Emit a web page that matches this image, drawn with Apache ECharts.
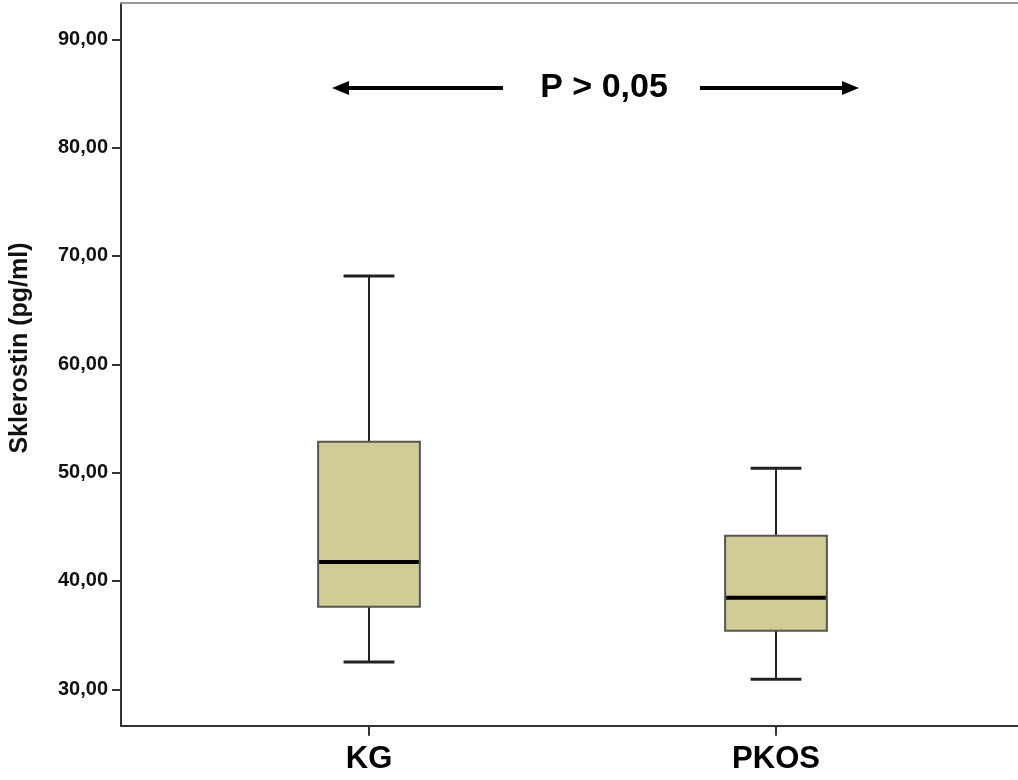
<!DOCTYPE html>
<html>
<head>
<meta charset="utf-8">
<script src="https://cdn.jsdelivr.net/npm/echarts@6/dist/echarts.min.js"></script>
<style>html,body{margin:0;padding:0;background:#fff;}#c{width:1018px;height:780px;}</style>
</head>
<body>
<div id="c"></div>
<script>
const categories = ['KG', 'PKOS'];
const whiskerLow = [32.52, 30.92];
const q1 = [37.63, 35.40];
const median = [41.75, 38.45];
const q3 = [52.85, 44.18];
const whiskerHigh = [68.15, 50.40];
const yTicks = [30, 40, 50, 60, 70, 80, 90];
const yTitle = 'Sklerostin (pg/ml)';
const pText = 'P > 0,05';

const FONT = 'Liberation Sans, Arial, sans-serif';
const boxData = categories.map((c, i) => [i + 1, whiskerLow[i], q1[i], median[i], q3[i], whiskerHigh[i]]);
const catPos = categories.map((c, i) => i + 1);

const chart = echarts.init(document.getElementById('c'), null, {renderer: 'canvas'});
const option = {
  animation: false,
  backgroundColor: '#fff',
  grid: {left: 121, right: 0, top: 3, bottom: 54.3, containLabel: false},
  xAxis: [{
    type: 'value', min: 0.3907, max: 2.5946, position: 'bottom',
    splitLine: {show: false},
    axisLine: {show: true, onZero: false, lineStyle: {color: '#333', width: 2}},
    axisTick: {show: true, length: 10, customValues: catPos, lineStyle: {color: '#333', width: 2}},
    axisLabel: {show: true, customValues: catPos, margin: 18, color: '#000', fontFamily: FONT, fontWeight: 'bold', fontSize: 31,
      formatter: v => categories[Math.round(v) - 1] || ''}
  }, {
    type: 'value', min: 0.3907, max: 2.5946, position: 'top',
    splitLine: {show: false},
    axisLine: {show: true, onZero: false, lineStyle: {color: '#999', width: 2}},
    axisTick: {show: false}, axisLabel: {show: false}
  }],
  yAxis: {
    type: 'value', min: 26.64, max: 93.35,
    splitLine: {show: false},
    axisLine: {show: true, onZero: false, lineStyle: {color: '#333', width: 2}},
    axisTick: {show: true, length: 9, customValues: yTicks, lineStyle: {color: '#333', width: 2}},
    axisLabel: {show: true, customValues: yTicks, margin: 13, color: '#111', fontFamily: FONT, fontWeight: 'bold', fontSize: 20,
      formatter: v => v.toFixed(2).replace('.', ',')}
  },
  series: [{
    type: 'custom',
    xAxisIndex: 0,
    data: boxData,
    renderItem: function (params, api) {
      const x = api.value(0);
      const lo = api.coord([x, api.value(1)]);
      const b1 = api.coord([x, api.value(2)]);
      const md = api.coord([x, api.value(3)]);
      const b3 = api.coord([x, api.value(4)]);
      const hi = api.coord([x, api.value(5)]);
      const w = api.size([0.25, 0])[0];
      const cw = w / 2;
      const cx = lo[0];
      return {
        type: 'group',
        children: [
          {type: 'line', shape: {x1: cx, y1: hi[1], x2: cx, y2: b3[1]}, style: {stroke: '#222', lineWidth: 2}},
          {type: 'line', shape: {x1: cx, y1: b1[1], x2: cx, y2: lo[1]}, style: {stroke: '#222', lineWidth: 2}},
          {type: 'line', shape: {x1: cx - cw / 2, y1: hi[1], x2: cx + cw / 2, y2: hi[1]}, style: {stroke: '#222', lineWidth: 3}},
          {type: 'line', shape: {x1: cx - cw / 2, y1: lo[1], x2: cx + cw / 2, y2: lo[1]}, style: {stroke: '#222', lineWidth: 3}},
          {type: 'rect', shape: {x: cx - w / 2, y: b3[1], width: w, height: b1[1] - b3[1]}, style: {fill: '#d1cc96', stroke: '#555', lineWidth: 2}},
          {type: 'line', shape: {x1: cx - w / 2 + 1, y1: md[1], x2: cx + w / 2 - 1, y2: md[1]}, style: {stroke: '#000', lineWidth: 4}}
        ]
      };
    }
  }],
  graphic: [
    {type: 'text', x: 20, y: 348, rotation: Math.PI / 2,
      style: {text: yTitle, fill: '#111', font: 'bold 25px ' + FONT, textAlign: 'center', textVerticalAlign: 'middle'}},
    {type: 'text', x: 604, y: 88,
      style: {text: pText, fill: '#000', font: 'bold 34px ' + FONT, textAlign: 'center', textVerticalAlign: 'middle'}},
    {type: 'line', shape: {x1: 345, y1: 88, x2: 503, y2: 88}, style: {stroke: '#000', lineWidth: 4}},
    {type: 'polygon', shape: {points: [[332, 88], [349, 81], [349, 95]]}, style: {fill: '#000'}},
    {type: 'line', shape: {x1: 700, y1: 88, x2: 846, y2: 88}, style: {stroke: '#000', lineWidth: 4}},
    {type: 'polygon', shape: {points: [[859, 88], [842, 81], [842, 95]]}, style: {fill: '#000'}}
  ]
};
chart.setOption(option);
</script>
</body>
</html>
